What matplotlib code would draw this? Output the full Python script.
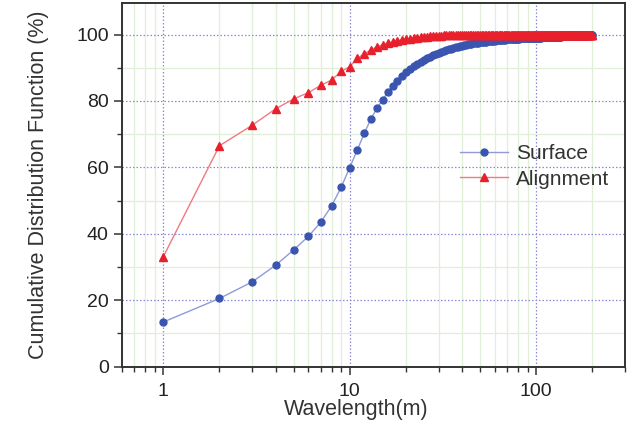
import matplotlib
matplotlib.use("Agg")
import matplotlib.pyplot as plt
from matplotlib.ticker import LogLocator, MultipleLocator, NullFormatter

plt.rcParams['font.family'] = ['Liberation Sans', 'DejaVu Sans']

wavelength = list(range(1, 201))

surface = [
    13.4, 20.5, 25.5, 30.5, 35.1, 39.2, 43.5, 48.4, 54.0, 59.9,
    65.3, 70.4, 74.6, 77.8, 80.3, 82.6, 84.6, 86.1, 87.5, 88.7,
    89.6, 90.4, 91.1, 91.8, 92.3, 92.8, 93.3, 93.7, 94.1, 94.4,
    94.7, 95.0, 95.2, 95.5, 95.7, 95.9, 96.1, 96.3, 96.5, 96.6,
    96.8, 96.9, 97.0, 97.1, 97.2, 97.3, 97.4, 97.5, 97.6, 97.7,
    97.75, 97.8, 97.85, 97.9, 97.95, 98.0, 98.05, 98.1, 98.15, 98.2,
    98.24, 98.28, 98.32, 98.36, 98.4, 98.43, 98.46, 98.49, 98.52, 98.55,
    98.58, 98.61, 98.64, 98.66, 98.68, 98.7, 98.72, 98.74, 98.76, 98.78,
    98.8, 98.82, 98.84, 98.86, 98.88, 98.9, 98.91, 98.92, 98.93, 98.94,
    98.95, 98.96, 98.97, 98.98, 98.99, 99.0, 99.01, 99.02, 99.03, 99.04,
    99.05, 99.06, 99.07, 99.08, 99.09, 99.10, 99.11, 99.12, 99.13, 99.14,
    99.15, 99.16, 99.17, 99.18, 99.19, 99.20, 99.21, 99.22, 99.23, 99.24,
    99.25, 99.26, 99.27, 99.28, 99.29, 99.30, 99.31, 99.32, 99.33, 99.34,
    99.35, 99.36, 99.37, 99.38, 99.39, 99.40, 99.41, 99.42, 99.43, 99.44,
    99.45, 99.46, 99.47, 99.48, 99.49, 99.50, 99.51, 99.52, 99.53, 99.54,
    99.55, 99.55, 99.56, 99.56, 99.57, 99.57, 99.58, 99.58, 99.59, 99.59,
    99.60, 99.60, 99.61, 99.61, 99.62, 99.62, 99.63, 99.63, 99.64, 99.64,
    99.65, 99.65, 99.66, 99.66, 99.67, 99.67, 99.68, 99.68, 99.69, 99.69,
    99.70, 99.70, 99.71, 99.71, 99.72, 99.72, 99.73, 99.73, 99.74, 99.74,
    99.75, 99.75, 99.76, 99.76, 99.77, 99.77, 99.78, 99.78, 99.79, 99.8,
]

alignment = [
    33.1, 66.5, 72.7, 77.6, 80.6, 82.5, 84.7, 86.3, 88.9, 90.3,
    92.9, 94.2, 95.4, 96.3, 96.9, 97.4, 97.8, 98.1, 98.4, 98.6,
    98.8, 98.95, 99.1, 99.2, 99.3, 99.4, 99.5, 99.55, 99.6, 99.65,
    99.7, 99.72, 99.74, 99.76, 99.78, 99.8, 99.82, 99.84, 99.85, 99.86,
    99.87, 99.87, 99.88, 99.88, 99.89, 99.89, 99.9, 99.9, 99.9, 99.9,
    99.91, 99.91, 99.91, 99.91, 99.92, 99.92, 99.92, 99.92, 99.92, 99.93,
    99.93, 99.93, 99.93, 99.93, 99.93, 99.94, 99.94, 99.94, 99.94, 99.94,
    99.94, 99.94, 99.95, 99.95, 99.95, 99.95, 99.95, 99.95, 99.95, 99.95,
    99.95, 99.96, 99.96, 99.96, 99.96, 99.96, 99.96, 99.96, 99.96, 99.96,
    99.96, 99.96, 99.97, 99.97, 99.97, 99.97, 99.97, 99.97, 99.97, 99.97,
    99.97, 99.97, 99.97, 99.97, 99.97, 99.97, 99.98, 99.98, 99.98, 99.98,
    99.98, 99.98, 99.98, 99.98, 99.98, 99.98, 99.98, 99.98, 99.98, 99.98,
    99.98, 99.98, 99.98, 99.98, 99.98, 99.98, 99.98, 99.98, 99.99, 99.99,
    99.99, 99.99, 99.99, 99.99, 99.99, 99.99, 99.99, 99.99, 99.99, 99.99,
    99.99, 99.99, 99.99, 99.99, 99.99, 99.99, 99.99, 99.99, 99.99, 99.99,
    99.99, 99.99, 99.99, 99.99, 99.99, 99.99, 99.99, 99.99, 99.99, 99.99,
    100.0, 100.0, 100.0, 100.0, 100.0, 100.0, 100.0, 100.0, 100.0, 100.0,
    100.0, 100.0, 100.0, 100.0, 100.0, 100.0, 100.0, 100.0, 100.0, 100.0,
    100.0, 100.0, 100.0, 100.0, 100.0, 100.0, 100.0, 100.0, 100.0, 100.0,
    100.0, 100.0, 100.0, 100.0, 100.0, 100.0, 100.0, 100.0, 100.0, 100.0,
]

series_labels = ["Surface", "Alignment"]
x_tick_labels = ["1", "10", "100"]
y_ticks = [0, 20, 40, 60, 80, 100]

fig = plt.figure(figsize=(6.28, 4.22), dpi=100)
ax = fig.add_axes([0.1943, 0.1315, 0.8009, 0.8614])

ax.set_xscale("log")
ax.set_xlim(0.6, 300)
ax.set_ylim(0, 109.5)

ax.set_yticks(y_ticks)
ax.yaxis.set_minor_locator(MultipleLocator(10))
ax.set_xticks([1, 10, 100])
ax.set_xticklabels(x_tick_labels)
ax.xaxis.set_minor_locator(LogLocator(base=10, subs=range(2, 10), numticks=20))
ax.xaxis.set_minor_formatter(NullFormatter())

ax.grid(which="minor", color="#e2efd8", linestyle="-", linewidth=0.9, zorder=0)
ax.grid(which="major", color="#8a8ad8", linestyle=(0, (1.2, 1.6)), linewidth=0.9, zorder=0)
ax.set_axisbelow(True)

ax.plot(wavelength, surface, color="#909ad8", linewidth=1.0, marker="o",
        markersize=5, markerfacecolor="#3a55b0", markeredgecolor="#3a55b0",
        label=series_labels[0], zorder=3)
ax.plot(wavelength, alignment, color="#f07a80", linewidth=1.0, marker="^",
        markersize=5.5, markerfacecolor="#e8202c", markeredgecolor="#e8202c",
        label=series_labels[1], zorder=4)

for s in ax.spines.values():
    s.set_color("#333333")
    s.set_linewidth(1.4)

ax.tick_params(which="major", direction="out", length=6, width=1.1, labelsize=14,
               colors="#333333", labelcolor="#222222")
ax.tick_params(which="minor", direction="out", length=3.5, width=1.0, colors="#333333")
ax.tick_params(axis="x", which="major", pad=6)

ax.set_ylabel("Cumulative Distribution Function (%)", fontsize=15.5, color="#333333")
ax.yaxis.set_label_coords(-0.145, 0.5)
ax.set_xlabel("Wavelength(m)", fontsize=15.5, color="#333333")
ax.xaxis.set_label_coords(0.465, -0.09)

leg = ax.legend(loc="center left", bbox_to_anchor=(0.672, 0.55), frameon=False,
                fontsize=15, handlelength=2.3, handletextpad=0.4, labelspacing=0.3,
                borderaxespad=0, borderpad=0)
for t in leg.get_texts():
    t.set_color("#333333")

fig.savefig("out.png", dpi=100)
